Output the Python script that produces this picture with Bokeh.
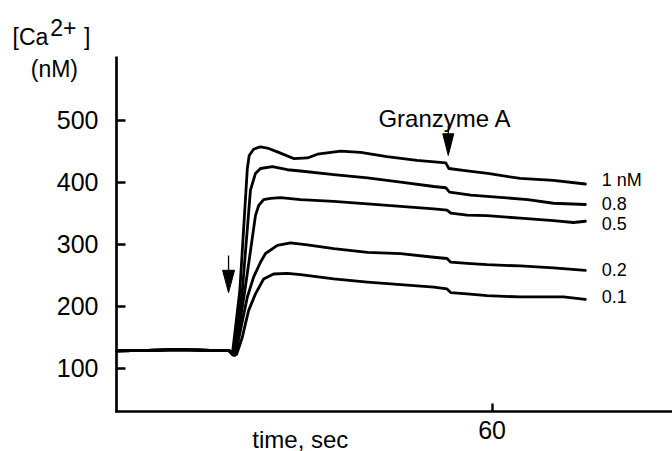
from bokeh.plotting import figure
from bokeh.models import Range1d, FixedTicker, Label
from bokeh.embed import file_html
from bokeh.resources import INLINE

# ---------------- data (time in s, [Ca2+] in nM) ----------------
t_base = [0, 5, 10, 15, 17.9]
ca_base = [128, 129, 130, 129, 129]

t_1nM = [18.5, 19.7, 20.9, 21.2, 21.9, 23.0, 24.1, 25.9, 28.3, 30.5, 32.1, 35.8, 39.0,
         43.2, 48.0, 52.6, 53.1, 56.0, 59.3, 64.5, 69.8, 74.9]
ca_1nM = [122, 225, 422, 443, 453, 457, 455, 448, 438, 439, 445, 450, 448,
          441, 435, 431, 422, 418, 414, 406, 403, 397]

t_08 = [18.7, 20.1, 21.4, 22.2, 23.0, 24.9, 27.3, 29.4, 34.7, 40.1, 45.4, 50.7, 52.6,
        53.2, 56.6, 61.8, 65.7, 69.8, 74.9]
ca_08 = [121, 225, 387, 414, 422, 425, 420, 418, 412, 407, 400, 393, 391,
         384, 379, 375, 372, 366, 364]

t_05 = [18.9, 20.5, 22.2, 22.7, 23.5, 24.6, 26.2, 29.4, 34.7, 40.1, 45.4, 50.7, 52.8,
        53.4, 56.0, 59.2, 64.5, 69.8, 73.0, 74.9]
ca_05 = [121, 225, 346, 362, 372, 374, 375, 372, 369, 365, 361, 357, 355,
         350, 347, 346, 342, 338, 335, 337]

t_02 = [19.0, 19.8, 20.9, 21.9, 23.0, 23.8, 25.7, 27.8, 30.5, 34.7, 40.1, 45.4, 50.7,
        52.8, 53.4, 56.0, 59.2, 64.5, 69.8, 74.9]
ca_02 = [122, 161, 215, 247, 271, 285, 298, 302, 299, 293, 287, 285, 279,
         277, 271, 269, 267, 265, 262, 258]

t_01 = [19.2, 20.1, 20.6, 21.1, 22.2, 23.5, 25.1, 27.3, 29.4, 34.7, 40.1, 45.4, 50.7,
        52.8, 53.4, 56.0, 59.2, 64.5, 71.4, 74.9]
ca_01 = [123, 150, 172, 193, 220, 244, 252, 253, 251, 244, 239, 235, 231,
         228, 222, 220, 217, 215, 215, 211]

series_t = [t_1nM, t_08, t_05, t_02, t_01]
series_ca = [ca_1nM, ca_08, ca_05, ca_02, ca_01]
series_names = ["1 nM", "0.8", "0.5", "0.2", "0.1"]
label_ca = [404, 366, 333, 259, 216]

y_ticks = [100, 200, 300, 400, 500]
x_ticks = [60]

# arrows: time, stem top, head base, tip (nM)
arrow_t = [17.9, 53.0]
arrow_top = [282, 491]
arrow_base = [258, 478]
arrow_tip = [222, 443]

# ---------------- layout ----------------
W, H = 672, 451
X0, X1 = -18.53, 88.82          # visible time span of the canvas
Y0, Y1 = -34.0, 692.7           # visible [Ca2+] span of the canvas
AX_T0, AX_T1 = 0.0, 88.82       # extent of the time axis
AX_C0, AX_C1 = 30.4, 602.4      # extent of the concentration axis
FONT = "Liberation Sans"

p = figure(width=W, height=H, x_range=Range1d(X0, X1), y_range=Range1d(Y0, Y1),
           output_backend="svg", toolbar_location=None, title=None,
           min_border=0, min_border_left=0, min_border_right=0,
           min_border_top=0, min_border_bottom=0)
p.outline_line_color = None
p.grid.visible = False
p.background_fill_color = "white"
p.border_fill_color = "white"

for ax in (p.xaxis, p.yaxis):
    ax.axis_line_width = 2.7
    ax.axis_line_color = "black"
    ax.major_tick_line_width = 2.4
    ax.major_tick_line_color = "black"
    ax.major_tick_out = 0
    ax.minor_tick_line_color = None
    ax.major_label_text_font = FONT
    ax.major_label_text_font_size = "25px"
    ax.major_label_text_color = "black"

p.yaxis.ticker = FixedTicker(ticks=y_ticks)
p.yaxis.fixed_location = AX_T0
p.yaxis.bounds = (AX_C0 - 2, AX_C1)
p.yaxis.major_tick_in = 9
p.yaxis.major_label_standoff = 18

p.xaxis.ticker = FixedTicker(ticks=x_ticks)
p.xaxis.fixed_location = AX_C0
p.xaxis.bounds = (AX_T0 - 0.2, AX_T1)
p.xaxis.major_tick_in = 8
p.xaxis.major_label_standoff = 9

# traces
for ts, cs in zip(series_t, series_ca):
    p.line(t_base + ts, ca_base + cs, line_width=2.8, line_color="black",
           line_join="round", line_cap="round")

# curve labels
for name, c in zip(series_names, label_ca):
    p.add_layout(Label(x=77.5, y=c, text=name, text_font=FONT, text_font_size="18px",
                       text_baseline="middle", text_align="left", text_color="black"))

# arrows
px_per_t = W / (X1 - X0)
half_w = [6.0 / px_per_t, 5.5 / px_per_t]
p.segment(x0=arrow_t, y0=arrow_top, x1=arrow_t, y1=arrow_base, line_width=1.3, line_color="black")
p.patches(xs=[[t - w, t + w, t] for t, w in zip(arrow_t, half_w)],
          ys=[[b, b, tp] for b, tp in zip(arrow_base, arrow_tip)],
          fill_color="black", line_color="black", line_width=1)

p.add_layout(Label(x=52.5, y=502.5, text="Granzyme A", text_font=FONT, text_font_size="24px",
                   text_align="center", text_baseline="alphabetic", text_color="black"))

# axis titles
p.add_layout(Label(x=-16.6, y=634, text="[Ca", text_font=FONT, text_font_size="23px",
                   text_baseline="alphabetic", text_color="black"))
p.add_layout(Label(x=-10.6, y=650, text="2+", text_font=FONT, text_font_size="23px",
                   text_baseline="alphabetic", text_color="black"))
p.add_layout(Label(x=-5.2, y=634, text="]", text_font=FONT, text_font_size="23px",
                   text_baseline="alphabetic", text_color="black"))
p.add_layout(Label(x=-13.7, y=583, text="(nM)", text_font=FONT, text_font_size="23px",
                   text_baseline="alphabetic", text_color="black"))
p.add_layout(Label(x=21.7, y=-14, text="time, sec", text_font=FONT, text_font_size="24px",
                   text_baseline="alphabetic", text_color="black"))

open("out.html", "w").write(file_html(p, INLINE))
